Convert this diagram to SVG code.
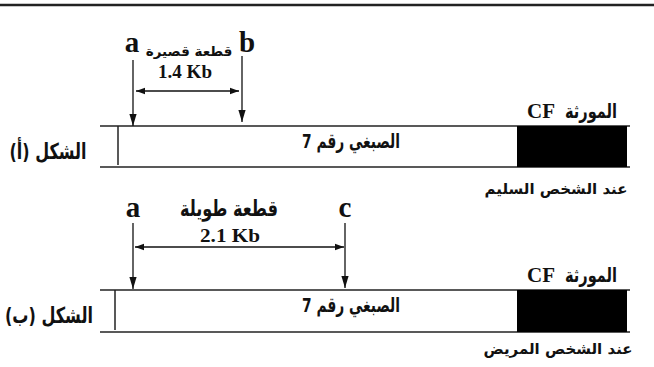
<svg xmlns="http://www.w3.org/2000/svg" width="654" height="367" viewBox="0 0 654 367">
<defs>
<style>
.ln{stroke:#222;stroke-width:1.5;fill:none}
.ar{stroke:#111;stroke-width:1.3;fill:none}
.lat{font-family:"Liberation Serif",serif;font-weight:bold;fill:#111}
.arb{font-family:"DejaVu Sans","Noto Sans",sans-serif;font-weight:bold;fill:#111;direction:rtl;unicode-bidi:embed}
</style>
<marker id="ah" viewBox="0 0 10 10" refX="10" refY="5" markerWidth="9" markerHeight="9" markerUnits="userSpaceOnUse" orient="auto-start-reverse">
<path d="M0,1.5 L10,5 L0,8.5 Z" fill="#111"/>
</marker>
<marker id="av" viewBox="0 0 10 10" refX="10" refY="5" markerWidth="12" markerHeight="12" markerUnits="userSpaceOnUse" orient="auto">
<path d="M0,2 L10,5 L0,8 Z" fill="#111"/>
</marker>
</defs>
<rect width="654" height="367" fill="#fff"/>
<line x1="0" y1="5" x2="654" y2="5" stroke="#222" stroke-width="2.5"/>

<g id="figA">
<g id="chromA">
<line class="ln" x1="100" y1="126" x2="630" y2="126"/>
<line class="ln" x1="100" y1="167" x2="630" y2="167"/>
<line class="ln" x1="118" y1="126" x2="118" y2="165"/>
<rect x="517" y="126" width="110" height="41" fill="#000"/>
<text class="arb" x="351" y="148" font-size="20" text-anchor="middle" textLength="98" lengthAdjust="spacingAndGlyphs">الصبغي رقم 7</text>
</g>
<text class="arb" x="48" y="159" font-size="22" text-anchor="middle" textLength="77" lengthAdjust="spacingAndGlyphs">الشكل (أ)</text>
<text class="arb" x="591" y="118" font-size="20" text-anchor="middle" textLength="52" lengthAdjust="spacingAndGlyphs">المورثة</text>
<text class="lat" x="527" y="118" font-size="21">CF</text>
<text class="arb" x="556" y="194" font-size="15" text-anchor="middle">عند الشخص السليم</text>
<text class="lat" x="132" y="52" font-size="29" text-anchor="middle">a</text>
<text class="lat" x="247" y="52" font-size="29" text-anchor="middle">b</text>
<text class="arb" x="189" y="56" font-size="13.5" text-anchor="middle">قطعة قصيرة</text>
<text class="lat" x="185" y="78" font-size="18" text-anchor="middle" textLength="54" lengthAdjust="spacingAndGlyphs">1.4 Kb</text>
</g>

<g id="figB">
<g id="chromB">
<line class="ln" x1="100" y1="290" x2="630" y2="290"/>
<line class="ln" x1="100" y1="332" x2="630" y2="332"/>
<line class="ln" x1="115" y1="290" x2="115" y2="330"/>
<rect x="517" y="290" width="110" height="42" fill="#000"/>
<text class="arb" x="351" y="312" font-size="20" text-anchor="middle" textLength="98" lengthAdjust="spacingAndGlyphs">الصبغي رقم 7</text>
</g>
<text class="arb" x="49" y="323" font-size="22" text-anchor="middle" textLength="88" lengthAdjust="spacingAndGlyphs">الشكل (ب)</text>
<text class="arb" x="591" y="282" font-size="20" text-anchor="middle" textLength="52" lengthAdjust="spacingAndGlyphs">المورثة</text>
<text class="lat" x="527" y="282" font-size="21">CF</text>
<text class="arb" x="558" y="354" font-size="15" text-anchor="middle">عند الشخص المريض</text>
<text class="lat" x="133" y="217" font-size="29" text-anchor="middle">a</text>
<text class="lat" x="345" y="217" font-size="29" text-anchor="middle">c</text>
<text class="arb" x="229" y="216" font-size="22" text-anchor="middle" textLength="98" lengthAdjust="spacingAndGlyphs">قطعة طويلة</text>
<text class="lat" x="230" y="242" font-size="18" text-anchor="middle" textLength="60" lengthAdjust="spacingAndGlyphs">2.1 Kb</text>
</g>

<g id="connectors">
<line class="ar" x1="133" y1="60" x2="133" y2="126" marker-end="url(#av)"/>
<line class="ar" x1="242" y1="56" x2="242" y2="122" marker-end="url(#av)"/>
<line class="ar" x1="136" y1="91" x2="239" y2="91" marker-start="url(#ah)" marker-end="url(#ah)"/>
<line class="ar" x1="133" y1="223" x2="133" y2="289" marker-end="url(#av)"/>
<line class="ar" x1="345" y1="223" x2="345" y2="288" marker-end="url(#av)"/>
<line class="ar" x1="135" y1="247" x2="344" y2="247" marker-start="url(#ah)" marker-end="url(#ah)"/>
</g>
</svg>
